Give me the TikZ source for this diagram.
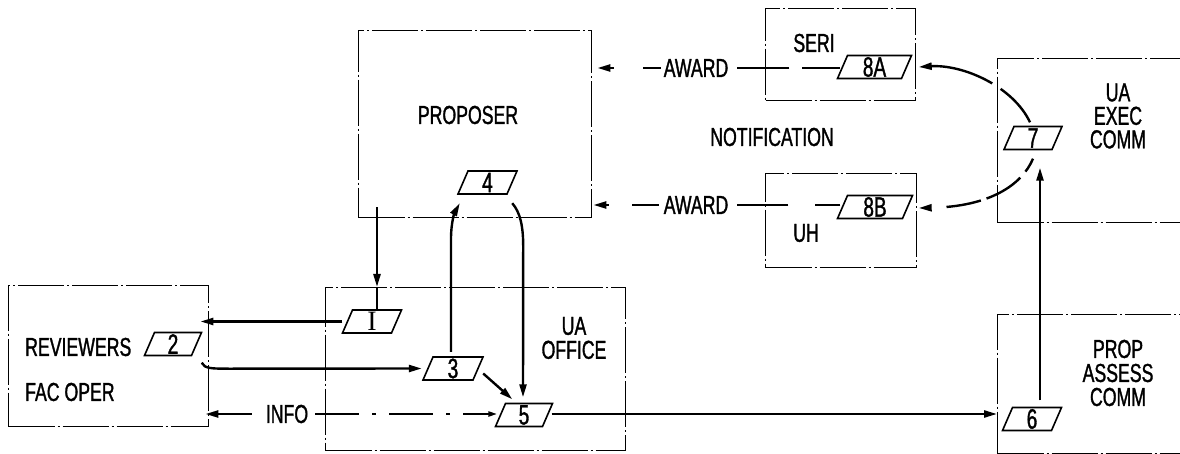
\documentclass[tikz,border=0pt]{standalone}
\usepackage{fontspec}
\setmainfont{Liberation Sans}[FakeStretch=0.68,FakeBold=1.2]
\newfontfamily\serifone{Liberation Serif}
\usetikzlibrary{arrows.meta,calc}
\tikzset{
  boxst/.style={draw, line width=1.4pt, dash pattern=on 46pt off 3pt on 2pt off 3pt, inner sep=0pt, anchor=north west},
  lbl/.style={font=\fontsize{26}{24}\selectfont, inner sep=0pt, align=center},
  plbl/.style={font=\fontsize{28}{28}\selectfont, inner sep=0pt, minimum height=23pt},
  paraline/.style={line width=1.6pt, line join=miter},
  wire/.style={line width=2.4pt},
  conn/.style={line width=2.4pt, -{Triangle[length=13pt,width=7pt]}},
  dashdot/.style={line width=2.2pt, dash pattern=on 44pt off 13pt on 4pt off 13pt},
}
\newcommand\parashape[5]{%
  \node[plbl, minimum width=#4pt] (#1) at (#2,#3) {#5};
  \draw[paraline] ($(#1.center)+({-#4/2+5},-11.5)$) -- ++(#4,0) -- ++(-10,23) -- ++(-#4,0) -- cycle;}
\begin{document}
\begin{tikzpicture}[x=1pt,y=-1pt]
\useasboundingbox (0,0) rectangle (1180,454);
\clip (0,0) rectangle (1180,454);
% boxes
\node[boxst, minimum width=200pt, minimum height=141pt] (rev) at (8,285) {};
\node[boxst, minimum width=300pt, minimum height=163pt] (uao) at (325,287) {};
\node[boxst, minimum width=233pt, minimum height=187pt] (prop) at (358,30) {};
\node[boxst, minimum width=150pt, minimum height=92pt] (seri) at (765,8) {};
\node[boxst, minimum width=151pt, minimum height=94pt] (uh) at (765,173) {};
\node[boxst, minimum width=260pt, minimum height=164pt] (uae) at (997,58) {};
\node[boxst, minimum width=260pt, minimum height=139pt] (pac) at (997,314) {};
% box texts
\node[lbl, anchor=west] (trev) at (25,347) {REVIEWERS};
\node[lbl, anchor=west] (tfac) at (25,392) {FAC OPER};
\node[lbl] (tuao) at (574,338) {UA\\OFFICE};
\node[lbl] (tprop) at (468,115) {PROPOSER};
\node[lbl] (tseri) at (814,43) {SERI};
\node[lbl] (tuh) at (806,233) {UH};
\node[lbl] (notif) at (772,137) {NOTIFICATION};
\node[lbl, font=\fontsize{26}{23.5}\selectfont] (tuae) at (1118,116) {UA\\EXEC\\COMM};
\node[lbl] (tpac) at (1118,373) {PROP\\ASSESS\\COMM};
\node[lbl] (info) at (287,414) {INFO};
\node[lbl] (award1) at (696,68) {AWARD};
\node[lbl] (award2) at (696,205) {AWARD};
% step parallelograms
\parashape{n1}{372}{321.5}{49}{\serifone I}
\parashape{n2}{173}{344}{47}{2}
\parashape{n3}{453}{368.5}{50}{3}
\parashape{n4}{487.5}{182.5}{49}{4}
\parashape{n5}{524}{415}{47}{5}
\parashape{n6}{1032}{419}{49}{6}
\parashape{n7}{1033}{138}{48}{7}
\parashape{n8a}{874.5}{67}{64}{8A}
\parashape{n8b}{875}{207}{65}{8B}
% connectors
\coordinate (c1a) at ($(prop.south west)+(19,-11)$);
\coordinate (c1b) at (c1a |- uao.north);
\draw[conn] (c1a) -- (c1b);
\draw[wire] (c1b) -- (c1b |- n1.north);
\draw[conn] ($(n1.west)+(-5,0)$) -- ($(rev.east |- n1.west)+(-9,0)$);
\draw[conn] ($(n2.south east)+(5,7)$) .. controls ($(n2.south east)+(8,13)$) and ($(n2.south east)+(14,13)$) .. ($(n2.south east)+(35,13)$) -- ($(n3.west)+(-6,0)$);
\draw[conn] ($(n3.north)+(-2,-5)$) -- ($(n3.north)+(-2,-118)$) .. controls ($(n3.north)+(-2,-135)$) and ($(n3.north)+(2,-145)$) .. ($(n4.south west)+(-3,9)$);
\draw[conn] ($(n4.south east)+(0,9)$) .. controls ($(n4.south east)+(8,18)$) and ($(n4.south east)+(11,32)$) .. ($(n4.south east)+(11,52)$) -- ($(n5.north)+(-1,-6)$);
\draw[conn] ($(n3.east)+(5,5)$) -- ($(n5.north west)+(12,-4)$);
\draw[conn] ($(n5.east)+(4,-1)$) -- ($(pac.west |- n5.east)+(0,-1)$);
\draw[conn] ($(info.west)+(-14,0)$) -- ($(rev.east |- info)+(-4,0)$);
\draw[dashdot, -{Triangle[length=9pt,width=5pt]}] ($(info.east)+(7,0)$) -- ($(info.east -| n5.west)+(-3,0)$);
\draw[wire, dash pattern=on 38pt off 13pt on 60pt] ($(award1.east -| n8a.west)+(-2,0)$) -- ($(award1.east)+(9,0)$);
\draw[conn, dash pattern=on 18pt off 29pt on 40pt] ($(award1.west)+(-3,0)$) -- ($(award1.west -| prop.east)+(5,0)$);
\draw[wire, dash pattern=on 25pt off 27pt on 60pt] ($(award2.east -| n8b.west)+(-2,0)$) -- ($(award2.east)+(9,0)$);
\draw[conn, dash pattern=on 27pt off 23pt on 40pt] ($(award2.west)+(-5,0)$) -- ($(award2.west -| prop.east)+(1,0)$);
\draw[conn, dash pattern=on 45pt off 10pt on 200pt] ($(n7.north)+(-3,-4)$) .. controls ($(n7.north)+(-20,-40)$) and ($(n7.north)+(-70,-62)$) .. ($(n8a.east)+(12,0)$);
\draw[conn, dash pattern=on 15pt off 8pt on 40pt off 6pt on 35pt off 16pt on 40pt] ($(n7.south)+(0,9)$) .. controls ($(n7.south)+(-11,35)$) and ($(n7.south)+(-43,57)$) .. ($(n8b.east)+(11,1)$);
\draw[conn] ($(n6.north)+(8,-7)$) -- ($(n7.south)+(7,18)$);
\end{tikzpicture}
\end{document}
